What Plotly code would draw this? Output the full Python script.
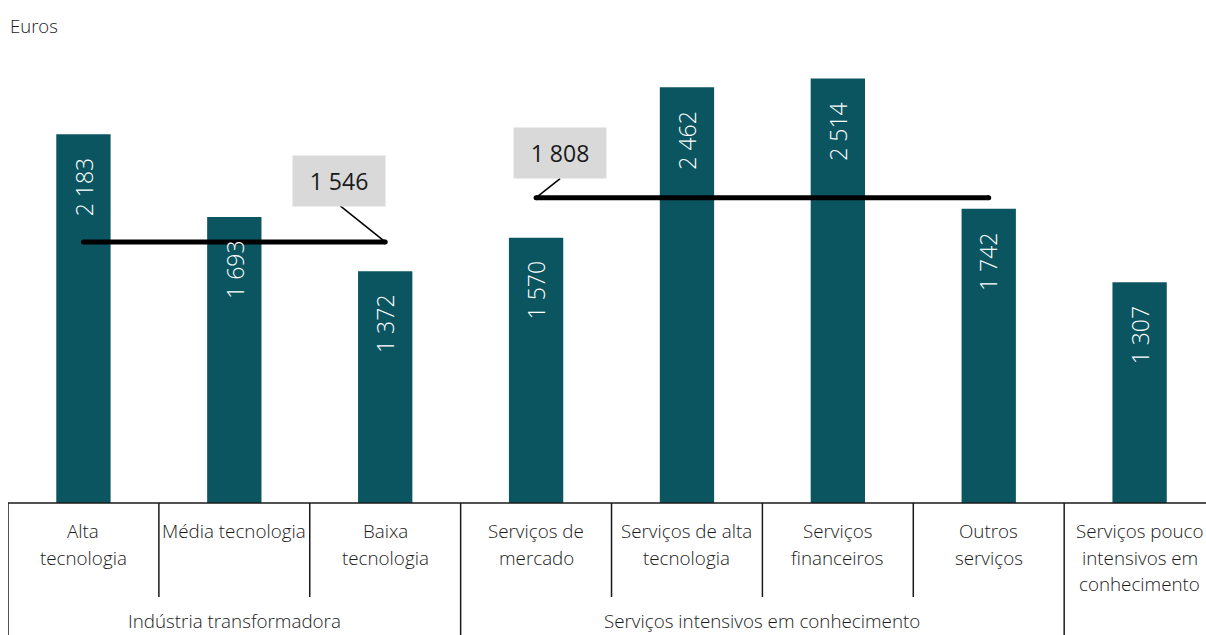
import plotly.graph_objects as go

categories = ["Alta<br>tecnologia", "Média tecnologia", "Baixa<br>tecnologia",
              "Serviços de<br>mercado", "Serviços de alta<br>tecnologia",
              "Serviços<br>financeiros", "Outros<br>serviços",
              "Serviços pouco<br>intensivos em<br>conhecimento"]
values = [2183, 1693, 1372, 1570, 2462, 2514, 1742, 1307]

groups = ["Indústria transformadora", "Serviços intensivos em conhecimento"]
group_spans = [(0, 2), (3, 6)]
group_avgs = [1546, 1808]

BAR = "#0B5561"
FONT = "Open Sans"
TXT = "#1A1A1A"
W = 300

def fmt(v):
    return f"{v:,}".replace(",", " ")

x = list(range(len(categories)))
fig = go.Figure()
fig.add_trace(go.Bar(x=x, y=values, marker=dict(color=BAR, line=dict(width=0)),
                     width=0.36, hoverinfo="skip"))

annotations = []
shapes = []

# value labels inside bars
for i, v in enumerate(values):
    annotations.append(dict(x=i, y=v, xref="x", yref="y", text=fmt(v), textangle=-90,
                            showarrow=False, yanchor="top", xanchor="center", yshift=-21,
                            font=dict(family=FONT, size=23, color="white", weight=350)))

# average lines and callouts
# (anchor end, box offset x/y px, connector end offset x/y px)
callouts = [(2, -46, 61, -45, 36), (0, 24, 45, 24, 19)]
for (a, b), avg, (end, bx, by, cx, cy) in zip(group_spans, group_avgs, callouts):
    fig.add_trace(go.Scatter(x=[a, b], y=[avg, avg], mode="lines+markers",
                             line=dict(color="black", width=5),
                             marker=dict(color="black", size=5), hoverinfo="skip"))
    px_ = b if end == 2 else a
    shapes.append(dict(type="line", xref="x", yref="y", xsizemode="pixel", ysizemode="pixel",
                       xanchor=px_, yanchor=avg, x0=0, y0=0, x1=cx, y1=cy,
                       line=dict(color="black", width=1.5)))
    annotations.append(dict(x=px_, y=avg, xref="x", yref="y", text=fmt(avg),
                            showarrow=False, xshift=bx, yshift=by,
                            xanchor="center", yanchor="middle",
                            bgcolor="#D9D9D9", width=88, height=46, borderpad=2,
                            font=dict(family=FONT, size=23, color=TXT, weight=400)))

# category table
y_short = -94 / 456
y_full = -132 / 456 - 0.05
shapes.append(dict(type="line", xref="x", yref="paper", x0=-0.5, x1=7.6, y0=0, y1=0,
                   line=dict(color=TXT, width=1.5)))
full_bounds = {-0.5, 2.5, 6.5}
for bnd in [-0.5 + k for k in range(8)]:
    y1 = y_full if bnd in full_bounds else y_short
    shapes.append(dict(type="line", xref="x", yref="paper", x0=bnd, x1=bnd, y0=0, y1=y1,
                       line=dict(color=TXT, width=1.5)))

for i, c in enumerate(categories):
    for j, line in enumerate(c.split("<br>")):
        annotations.append(dict(x=i, y=0, xref="x", yref="paper", text=line, showarrow=False,
                                yanchor="middle", yshift=-(28 + 26.5 * j),
                                font=dict(family=FONT, size=18.8, color=TXT, weight=W)))

for g, (a, b) in zip(groups, group_spans):
    annotations.append(dict(x=(a + b) / 2, y=0, xref="x", yref="paper", text=g,
                            showarrow=False, yanchor="middle", yshift=-118,
                            font=dict(family=FONT, size=18.8, color=TXT, weight=W)))

annotations.append(dict(x=0, y=1, xref="paper", yref="paper", text="Euros", showarrow=False,
                        xanchor="left", yanchor="middle", xshift=0, yshift=22,
                        font=dict(family=FONT, size=18.5, color=TXT, weight=W)))

fig.update_layout(
    width=1206, height=635,
    margin=dict(l=8, r=0, t=47, b=132),
    plot_bgcolor="white", paper_bgcolor="white",
    showlegend=False,
    xaxis=dict(range=[-0.5, 7.44], showticklabels=False, showgrid=False, zeroline=False,
               showline=False, ticks="", fixedrange=True),
    yaxis=dict(range=[0, 2700], showticklabels=False, showgrid=False, zeroline=False,
               showline=False, ticks="", fixedrange=True),
    annotations=annotations, shapes=shapes, bargap=0.64,
)

fig.write_html("out.html", config={"displayModeBar": False},
               post_script="document.body.style.margin='0';document.body.style.overflow='hidden';")
